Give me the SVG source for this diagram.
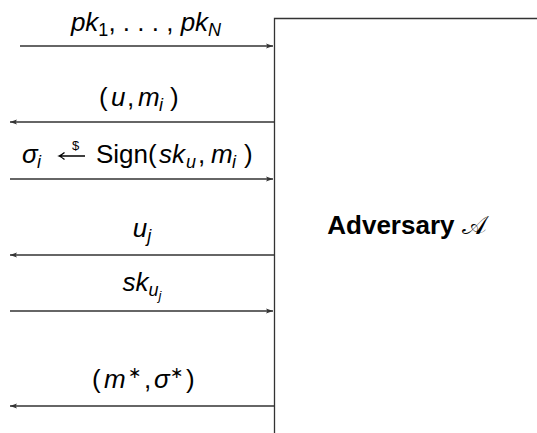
<svg xmlns="http://www.w3.org/2000/svg" width="537" height="433" viewBox="0 0 537 433">
<style>
.ln{stroke:#333;stroke-width:1.3;fill:none}
.t{font-family:"Liberation Sans",Arial,sans-serif;font-size:26px;fill:#000;text-anchor:middle}
.st{font-family:"Liberation Sans",Arial,sans-serif;font-size:26px;fill:#000}
.i{font-style:italic}
.s{font-size:18px}
.ast{font-family:"DejaVu Sans",sans-serif;font-size:16px}
</style>
<defs>
<marker id="ah" markerWidth="8" markerHeight="6" refX="7" refY="3" orient="auto" markerUnits="userSpaceOnUse">
<path d="M0,0.5 L7,3 L0,5.5 L1.5,3 Z" fill="#333"/>
</marker>
</defs>
<rect width="537" height="433" fill="#fff"/>
<g id="adversary">
<path class="ln" d="M274.5,433 V18.5 H537"/>
<text x="407" y="234" style="font-family:'Liberation Sans',Arial,sans-serif;font-size:26px;font-weight:bold;text-anchor:middle">Adversary <tspan style="font-weight:normal;font-family:'DejaVu Sans',serif">𝒜</tspan></text>
</g>
<g id="connectors">
<line class="ln" x1="20" y1="46" x2="273" y2="46" marker-end="url(#ah)"/>
<line class="ln" x1="274" y1="122" x2="10" y2="122" marker-end="url(#ah)"/>
<line class="ln" x1="10" y1="179" x2="273" y2="179" marker-end="url(#ah)"/>
<line class="ln" x1="274" y1="255" x2="10" y2="255" marker-end="url(#ah)"/>
<line class="ln" x1="10" y1="311" x2="273" y2="311" marker-end="url(#ah)"/>
<line class="ln" x1="274" y1="406" x2="10" y2="406" marker-end="url(#ah)"/>
</g>
<g id="labels">
<text class="t" x="146" y="31"><tspan class="i">pk</tspan><tspan class="s" dy="5">1</tspan><tspan dy="-5">, . . . , </tspan><tspan class="i">pk</tspan><tspan class="s i" dy="5">N</tspan></text>
<text class="st" y="106"><tspan x="99">(</tspan><tspan class="i" x="111">u</tspan><tspan x="127">,</tspan><tspan class="i" x="138">m</tspan><tspan class="s i" x="159" dy="5">i</tspan><tspan x="170" dy="-5">)</tspan></text>
<text class="st" y="163"><tspan class="i" x="22">σ</tspan><tspan class="s i" x="37" dy="5">i</tspan></text>
<path d="M85,156 H60 M64.5,152.5 Q61.5,155 59,156 Q61.5,157 64.5,159.5" stroke="#000" stroke-width="1.3" fill="none"/>
<text x="72" y="150" style="font-family:'Liberation Sans',Arial,sans-serif;font-size:13px">$</text>
<text class="st" y="163"><tspan x="96">Sign(</tspan><tspan class="i" x="159">sk</tspan><tspan class="s i" x="186" dy="5">u</tspan><tspan x="198" dy="-5">,</tspan><tspan class="i" x="211">m</tspan><tspan class="s i" x="232" dy="5">i</tspan><tspan x="244" dy="-5">)</tspan></text>
<text class="t" x="142" y="237"><tspan class="i">u</tspan><tspan class="s i" dy="5">j</tspan></text>
<text class="t" x="142" y="291"><tspan class="i">sk</tspan><tspan class="s i" dy="5">u</tspan><tspan style="font-size:13px;font-style:italic" dy="4">j</tspan></text>
<text class="st" y="388"><tspan x="92">(</tspan><tspan class="i" x="104">m</tspan><tspan class="ast" x="128" dy="-10">∗</tspan><tspan x="144" dy="10">,</tspan><tspan class="i" x="154">σ</tspan><tspan class="ast" x="170" dy="-10">∗</tspan><tspan x="186" dy="10">)</tspan></text>
</g>
</svg>
